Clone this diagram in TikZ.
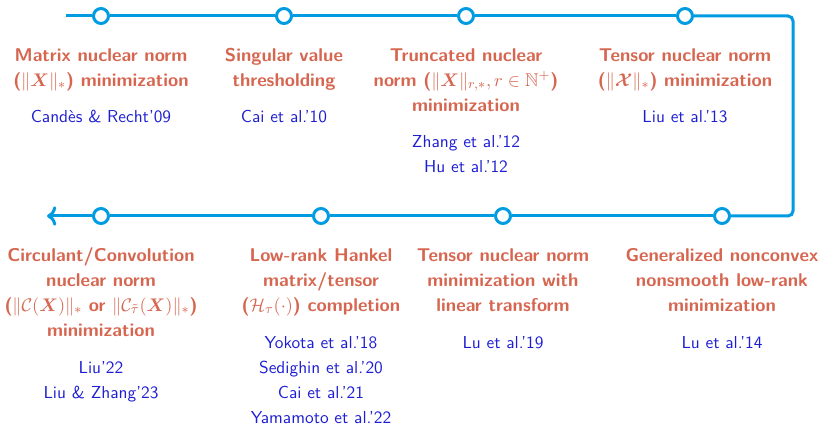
\documentclass[tikz,border=0pt]{standalone}
\usepackage{amsmath,amssymb,bm}
\usetikzlibrary{arrows.meta}
\definecolor{tlblue}{RGB}{0,155,225}
\definecolor{ttlcol}{RGB}{214,102,80}
\definecolor{refcol}{RGB}{30,30,210}
\tikzset{
  tline/.style={draw=tlblue, line width=1.8pt, rounded corners=3pt},
  dot/.style={circle, draw=tlblue, fill=white, line width=1.8pt, minimum size=9pt, inner sep=0pt},
  ttl/.style={text=ttlcol, font=\fontsize{11.1}{15}\selectfont\sffamily\bfseries, align=center, anchor=north, inner sep=0pt},
  refs/.style={text=refcol, font=\fontsize{10.4}{15}\selectfont\sffamily, align=center, anchor=north, inner sep=0pt}
}
\begin{document}
\begin{tikzpicture}[x=0.6pt,y=-0.6pt]
\useasboundingbox (0,0) rectangle (820,424);
% timeline nodes
\coordinate (s) at (66,16);
\coordinate (tr) at (793,16);
\coordinate (br) at (793,216);
\coordinate (e) at (47,216);
\node[dot] (t1) at (101,16) {};
\node[dot] (t2) at (284,16) {};
\node[dot] (t3) at (466,16) {};
\node[dot] (t4) at (685,16) {};
\node[dot] (b4) at (722,216) {};
\node[dot] (b3) at (503,216) {};
\node[dot] (b2) at (321,216) {};
\node[dot] (b1) at (101,216) {};
\draw[tline] (s) -- (t1);
\draw[tline] (t1) -- (t2);
\draw[tline] (t2) -- (t3);
\draw[tline] (t3) -- (t4);
\draw[tline] (t4) -- (tr) -- (br) -- (b4);
\draw[tline] (b4) -- (b3);
\draw[tline] (b3) -- (b2);
\draw[tline] (b2) -- (b1);
\draw[tline,->] (b1) -- (e);
% top titles
\node[ttl] (h1) at (101,48) {Matrix nuclear norm\\($\|\boldsymbol{X}\|_*$) minimization};
\node[ttl] (h2) at (284,48) {Singular value\\thresholding};
\node[ttl] (h3) at (466,48) {Truncated nuclear\\norm ($\|\boldsymbol{X}\|_{r,*}, r\in\mathbb{N}^+$)\\minimization};
\node[ttl] (h4) at (685,48) {Tensor nuclear norm\\($\|\boldsymbol{\mathcal{X}}\|_*$) minimization};
\node[refs] (r1) at (101,110) {Cand\`es \& Recht'09};
\node[refs] (r2) at (284,110) {Cai et al.'10};
\node[refs] (r3) at (466,135) {Zhang et al.'12\\Hu et al.'12};
\node[refs] (r4) at (685,110) {Liu et al.'13};
% bottom titles
\node[ttl] (g1) at (101,247) {Circulant/Convolution\\nuclear norm\\($\|\mathcal{C}(\boldsymbol{X})\|_*$ or $\|\mathcal{C}_{\tilde{\tau}}(\boldsymbol{X})\|_*$)\\minimization};
\node[ttl] (g2) at (321,248) {Low-rank Hankel\\matrix/tensor\\($\mathcal{H}_\tau(\cdot)$) completion};
\node[ttl] (g3) at (503,248) {Tensor nuclear norm\\minimization with\\linear transform};
\node[ttl] (g4) at (722,248) {Generalized nonconvex\\nonsmooth low-rank\\minimization};
\node[refs] (q1) at (101,361) {Liu'22\\Liu \& Zhang'23};
\node[refs] (q2) at (321,336) {Yokota et al.'18\\Sedighin et al.'20\\Cai et al.'21\\Yamamoto et al.'22};
\node[refs] (q3) at (503,336) {Lu et al.'19};
\node[refs] (q4) at (722,336) {Lu et al.'14};
\end{tikzpicture}
\end{document}
